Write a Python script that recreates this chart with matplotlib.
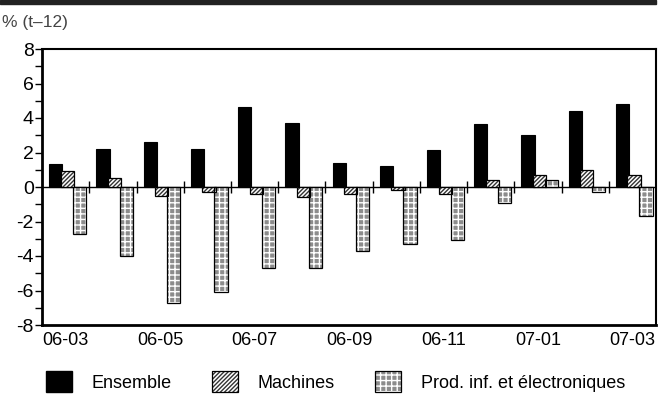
import numpy as np
import matplotlib.pyplot as plt
from matplotlib.patches import Rectangle, Patch

plt.rcParams['font.family'] = ['Liberation Sans', 'DejaVu Sans']

# data (% change over 12 months)
months = ['06-03', '06-04', '06-05', '06-06', '06-07', '06-08', '06-09',
          '06-10', '06-11', '06-12', '07-01', '07-02', '07-03']
ensemble = [1.35, 2.2, 2.6, 2.2, 4.65, 3.7, 1.4, 1.2, 2.15, 3.65, 3.0, 4.4, 4.8]
machines = [0.9, 0.55, -0.5, -0.3, -0.4, -0.6, -0.4, -0.2, -0.4, 0.4, 0.7, 1.0, 0.7]
prod_inf = [-2.7, -4.0, -6.7, -6.1, -4.7, -4.7, -3.7, -3.3, -3.1, -0.9, 0.4, -0.3, -1.7]
labels = ['Ensemble', 'Machines', 'Prod. inf. et électroniques']

x = np.arange(len(months))
w = 0.28
grey = '#8c8c8c'

fig = plt.figure(figsize=(6.58, 4.0), dpi=100)
ax = fig.add_axes([0.064, 0.1875, 0.933, 0.69])

# black band at the top of the figure
fig.patches.append(Rectangle((0, 0.99), 0.997, 0.01, transform=fig.transFigure,
                             color='#222222', zorder=0))
fig.text(0.003, 0.932, '% (t\u201312)', fontsize=12.5, color='#444444')

ax.bar(x - 0.21, ensemble, w, color='black', edgecolor='black', linewidth=0.8, zorder=3)
ax.bar(x + 0.035, machines, w, color='white', edgecolor='#333333', hatch='////////',
       linewidth=0, zorder=3)
ax.bar(x + 0.035, machines, w, color='none', edgecolor='black', linewidth=0.9, zorder=4)
ax.bar(x + 0.29, prod_inf, w, color=grey, edgecolor='white', hatch='+++',
       linewidth=0, zorder=3)
ax.bar(x + 0.29, prod_inf, w, color='none', edgecolor='black', linewidth=0.9, zorder=4)

# zero line with small ticks between groups
ax.axhline(0, color='black', linewidth=1.0, zorder=2)
ax.plot(x[:-1] + 0.5, np.zeros(len(x) - 1), linestyle='none', marker='|',
        markersize=9, color='black', markeredgewidth=1.0, zorder=2)

ax.set_xlim(-0.5, len(months) - 0.5)
ax.set_ylim(-8, 8)
ax.set_yticks(np.arange(-8, 9, 2))
ax.set_yticks(np.arange(-7, 8, 2), minor=True)
ax.set_yticklabels([str(v) for v in range(-8, 9, 2)], fontsize=14)
ax.tick_params(axis='y', which='major', length=5, width=1.0, direction='out', pad=1)
ax.tick_params(axis='y', which='minor', length=5, width=1.0, direction='out')
ax.set_xticks(x[::2])
ax.set_xticklabels(months[::2], fontsize=13)
ax.tick_params(axis='x', length=0, pad=5)

for side in ['left', 'bottom']:
    ax.spines[side].set_linewidth(2.0)
for side in ['top', 'right']:
    ax.spines[side].set_linewidth(1.5)

outline = Patch(facecolor='none', edgecolor='black', linewidth=0.9)
handles = [Patch(facecolor='black', edgecolor='black'),
           (Patch(facecolor='white', edgecolor='#333333', hatch='////////', linewidth=0), outline),
           (Patch(facecolor=grey, edgecolor='white', hatch='+++', linewidth=0), outline)]
leg = fig.legend(handles, labels, loc='lower left', bbox_to_anchor=(0.045, -0.02),
                 ncol=3, frameon=False, fontsize=13, handlelength=1.45, handleheight=1.35,
                 columnspacing=2.2, handletextpad=1.1)

fig.savefig('out.png', dpi=100)
